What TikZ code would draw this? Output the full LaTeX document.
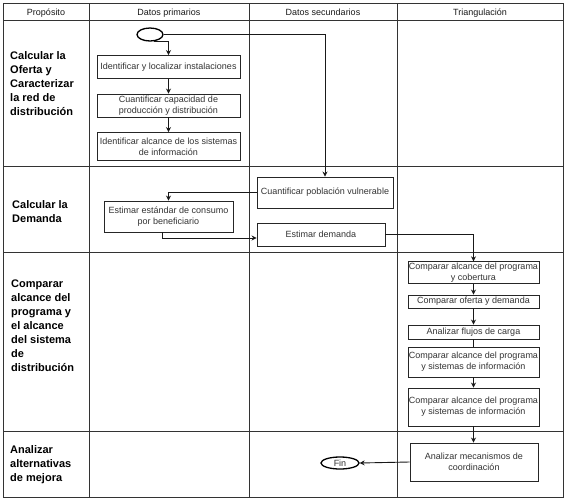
\documentclass[tikz,border=0pt]{standalone}
\usepackage{fontspec}
\setmainfont{Liberation Sans}
\usetikzlibrary{arrows.meta,shapes.geometric,calc}
\begin{document}
\begin{tikzpicture}[x=1pt,y=-1pt,
  gridline/.style={draw=black!80, line width=1pt},
  box/.style={draw=black!85, line width=0.9pt, fill=white, font=\fontsize{9}{11}\selectfont, align=center, inner sep=1pt, text=black!80},
  lane/.style={font=\fontsize{11}{14}\selectfont\bfseries, align=left, anchor=west, inner sep=0pt},
  hdr/.style={font=\fontsize{9}{11}\selectfont, inner sep=0pt, anchor=base, text=black!90},
  term/.style={ellipse, draw=black, line width=1.3pt, inner sep=0pt, fill=white, font=\fontsize{9}{11}\selectfont, text=black!80},
  flow/.style={draw=black!90, line width=0.9pt, -{Stealth[length=5pt,width=5pt]}},
  link/.style={draw=black!90, line width=0.9pt}]

\useasboundingbox (0,0) rectangle (566,499);
\fill[white] (0,0) rectangle (566,499);

% table grid
\draw[gridline] (3,3) rectangle (563,497);
\foreach \yy in {20,166,252,431} \draw[gridline] (3,\yy) -- (563,\yy);
\foreach \xx in {89,249,397} \draw[gridline] (\xx,3) -- (\xx,497);

% headers
\node[hdr] (h1) at (46,15) {Propósito};
\node[hdr] (h2) at (169,15) {Datos primarios};
\node[hdr] (h3) at (323,15) {Datos secundarios};
\node[hdr] (h4) at (480,15) {Triangulación};

% lane labels
\node[lane] (l1) at (10,84) {Calcular la\\Oferta y\\Caracterizar\\la red de\\distribución};
\node[lane] (l2) at (12,211.5) {Calcular la\\Demanda};
\node[lane] (l3) at (11,326) {Comparar\\alcance del\\programa y\\el alcance\\del sistema\\de\\distribución};
\node[lane] (l4) at (10,465) {Analizar\\alternativas\\de mejora};

% start
\node[term, minimum width=26pt, minimum height=13pt] (start) at (150,34.5) {};

% row 1 boxes
\node[box, minimum width=143pt, minimum height=23pt] (b1) at (168.5,67) {Identificar y localizar instalaciones};
\node[box, minimum width=143pt, minimum height=23pt] (b2) at (168.5,105.5) {Cuantificar capacidad de\\producción y distribución};
\node[box, minimum width=143pt, minimum height=28pt] (b3) at (168.5,146.5) {Identificar alcance de los sistemas\\de información};

% row 2 boxes
\node[box, minimum width=136pt, minimum height=31pt] (c1) at (325,192.5) {Cuantificar población vulnerable};
\node[box, minimum width=129pt, minimum height=31pt] (c2) at (168.5,216.5) {Estimar estándar de consumo\\por beneficiario};
\node[box, minimum width=128pt, minimum height=23pt] (c3) at (321,234.5) {Estimar demanda};

% row 3 boxes
\node[box, minimum width=131pt, minimum height=21pt] (d1) at (473.5,272.5) {Comparar alcance del programa\\y cobertura};
\node[box, minimum width=131pt, minimum height=13pt] (d2) at (473.5,301.5) {Comparar oferta y demanda};
\node[box, minimum width=131pt, minimum height=14pt] (d3) at (473.5,332) {Analizar flujos de carga};
\node[box, minimum width=131pt, minimum height=30pt] (d4) at (473.5,362) {Comparar alcance del programa\\y sistemas de información};
\node[box, minimum width=131pt, minimum height=38pt] (d5) at (473.5,407) {Comparar alcance del programa\\y sistemas de información};

% row 4
\node[box, minimum width=128pt, minimum height=38pt] (f) at (474,462) {Analizar mecanismos de\\coordinación};
\node[term, minimum width=38pt, minimum height=12pt] (fin) at (340,463) {Fin};

% connectors
\draw[flow] (start.300) -| (b1.north);
\draw[flow] (b1) -- (b2);
\draw[flow] (b2) -- (b3);
\draw[flow] (start.east) -| (c1.north);
\draw[flow] (c1.west) -| (c2.north);
\draw[flow] ($(c2.south)+(-6,0)$) |- ($(c3.west)+(0,3.5)$);
\draw[flow] (c3.east) -| (d1.north);
\draw[flow] (d1) -- (d2);
\draw[flow] (d2) -- (d3);
\draw[link] (d3) -- (d4);
\draw[flow] (d4) -- (d5);
\draw[flow] (d5.south) -- (f.north -| d5.south);
\draw[flow] (f.west) -- (fin.east);
\end{tikzpicture}
\end{document}
